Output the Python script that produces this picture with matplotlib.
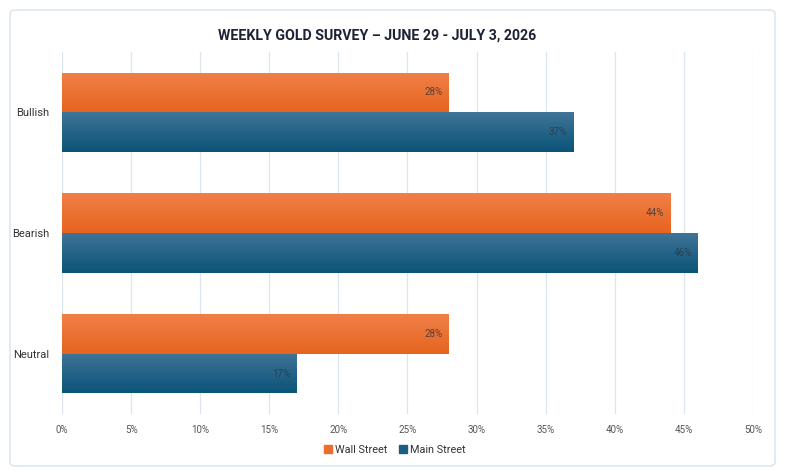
import matplotlib
matplotlib.use('Agg')
import matplotlib.pyplot as plt
import numpy as np
from matplotlib.patches import FancyBboxPatch
from matplotlib.colors import LinearSegmentedColormap

plt.rcParams['font.family'] = ['Roboto', 'DejaVu Sans']

categories = ['Bullish', 'Bearish', 'Neutral']
wall_street = [28, 44, 28]
main_street = [37, 46, 17]
series_names = ['Wall Street', 'Main Street']
x_ticks = [0, 5, 10, 15, 20, 25, 30, 35, 40, 45, 50]

orange_top, orange_bot = '#F08048', '#E6641F'
blue_top, blue_bot = '#3F7497', '#0A5478'
orange_key, blue_key = '#EC6D2E', '#1A5E84'

fig = plt.figure(figsize=(7.87, 4.76), dpi=100)
fig.patch.set_facecolor('white')

# card frame
card = FancyBboxPatch((10 / 787, 10 / 476), 765 / 787, 456 / 476,
                      boxstyle='round,pad=0,rounding_size=0.008',
                      transform=fig.transFigure, facecolor='none',
                      edgecolor='#DCE7EF', linewidth=1.2, zorder=-1)
fig.patches.append(card)

ax = fig.add_axes([62 / 787, 1 - 414 / 476, 691 / 787, 362 / 476])
ax.set_facecolor('none')

y = np.arange(len(categories))
h = 0.33
bars_w = ax.barh(y - h / 2, wall_street, height=h, color=orange_bot, label=series_names[0], zorder=2)
bars_m = ax.barh(y + h / 2, main_street, height=h, color=blue_bot, label=series_names[1], zorder=2)

ax.set_xlim(0, 50)
ax.set_ylim(len(categories) - 0.5, -0.5)

# vertical gradient on each bar
grad = np.linspace(0, 1, 100).reshape(-1, 1)
for bars, c_top, c_bot in [(bars_w, orange_top, orange_bot), (bars_m, blue_top, blue_bot)]:
    cmap = LinearSegmentedColormap.from_list('g', [c_top, c_bot])
    for b in bars:
        x0, y0 = b.get_x(), b.get_y()
        w, hh = b.get_width(), b.get_height()
        im = ax.imshow(grad, cmap=cmap, aspect='auto', extent=(x0, x0 + w, y0 + hh, y0),
                       zorder=3, interpolation='bicubic')
        im.set_clip_path(b)
        ax.text(x0 + w - 0.45, y0 + hh / 2, f'{int(w)}%', ha='right', va='center',
                fontsize=7, color='#2E3440', alpha=0.8, zorder=4)

ax.set_xlim(0, 50)
ax.set_ylim(len(categories) - 0.5, -0.5)
ax.set_yticks(y)
ax.set_yticklabels(categories, fontsize=8, color='#333333')
ax.set_xticks(x_ticks)
ax.set_xticklabels([f'{t}%' for t in x_ticks], fontsize=7, color='#555555')
ax.tick_params(length=0)
ax.tick_params(axis='x', pad=8)
ax.tick_params(axis='y', pad=9)
ax.grid(axis='x', color='#DCE4EE', linewidth=0.9, zorder=0)
ax.set_axisbelow(True)
for s in ax.spines.values():
    s.set_visible(False)

fig.text(377 / 787, 1 - 36 / 476, 'WEEKLY GOLD SURVEY – JUNE 29 - JULY 3, 2026', ha='center', va='center',
         fontsize=10.2, fontweight='bold', color='#1E2235')

handles = [plt.Rectangle((0, 0), 1, 1, color=orange_key), plt.Rectangle((0, 0), 1, 1, color=blue_key)]
fig.legend(handles, series_names, loc='center', bbox_to_anchor=(395 / 787, 1 - 450 / 476), ncol=2,
           frameon=False, fontsize=7.8, handlelength=0.7, handleheight=0.7, handletextpad=0.3,
           columnspacing=1.1, labelcolor='#333333')

fig.savefig('out.png', dpi=100)
